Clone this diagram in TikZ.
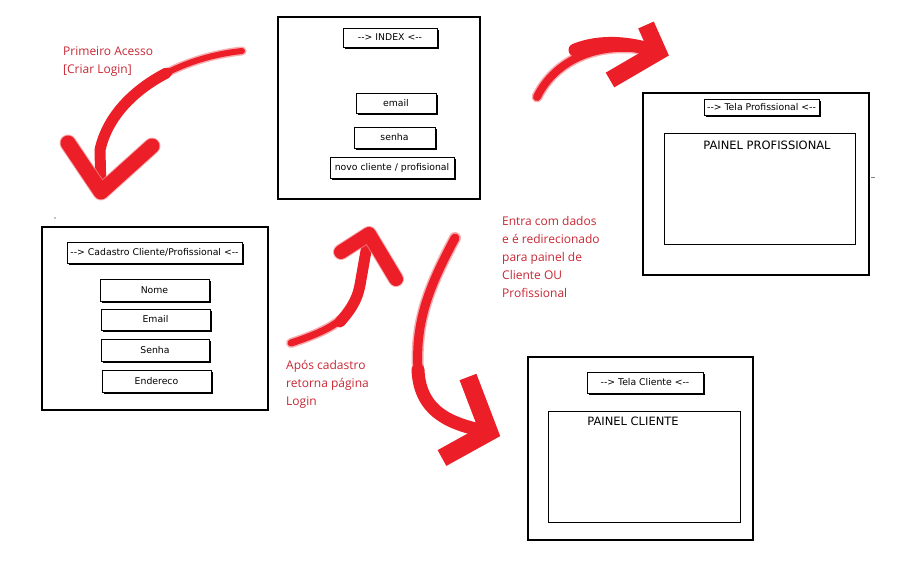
\documentclass[tikz,border=0pt]{standalone}
\usepackage{fontspec}
\setmainfont{DejaVu Sans}
\newfontfamily\notefont{Open Sans}
\usetikzlibrary{shadows}
\definecolor{notered}{RGB}{200,40,52}
\definecolor{brushred}{RGB}{236,30,40}
\definecolor{brushhalo}{RGB}{246,140,144}
\tikzset{
  frame/.style={draw=black, line width=1.3pt, fill=white, inner sep=0pt},
  btn/.style={draw=black, line width=0.7pt, fill=white, inner sep=0pt,
    font=\fontsize{9.3}{10}\selectfont,
    drop shadow={shadow xshift=1.6pt, shadow yshift=-1.8pt, opacity=1, fill=black}},
  panel/.style={draw=black, line width=1pt, fill=white, inner sep=0pt},
  paneltext/.style={font=\fontsize{11.5}{13}\selectfont, inner sep=0pt},
  note/.style={font=\notefont\fontsize{12}{18}\selectfont, text=notered, align=left, anchor=north west, inner sep=0pt},
  brush/.style={draw=brushred, line cap=round, line join=round},
  brushsoft/.style={draw=brushhalo, line cap=round, line join=round, opacity=0.7},
}
\begin{document}
\begin{tikzpicture}[x=1pt,y=-1pt]
\useasboundingbox (0,0) rectangle (904,576);
\fill[white] (0,0) rectangle (904,576);

% ---------- INDEX ----------
\node[frame, minimum width=202pt, minimum height=182pt] (index) at (379,108) {};
\node[btn, minimum width=94pt, minimum height=19pt] (indextitle) at (390,37.5) {-{}-> INDEX <-{}-};
\node[btn, minimum width=80pt, minimum height=20pt] (email) at (396,103) {email};
\node[btn, minimum width=81pt, minimum height=21pt] (senha) at (394.5,137.5) {senha};
\node[btn, minimum width=124pt, minimum height=21pt] (novo) at (392,167.5) {novo cliente / profisional};

% ---------- Cadastro ----------
\node[frame, minimum width=226pt, minimum height=183pt] (cad) at (155,318.5) {};
\node[btn, minimum width=175pt, minimum height=21pt] (cadtitle) at (154.5,252.5) {-{}-> Cadastro Cliente/Profissional <-{}-};
\node[btn, minimum width=109pt, minimum height=22pt] (nome) at (154.5,290) {Nome};
\node[btn, minimum width=109pt, minimum height=21pt] (cemail) at (155.5,319.5) {Email};
\node[btn, minimum width=108pt, minimum height=22pt] (csenha) at (155,350) {Senha};
\node[btn, minimum width=109pt, minimum height=22pt] (end) at (156.5,381) {Endereco};
\fill (55,218) circle (0.6pt);

% ---------- Tela Profissional ----------
\node[frame, minimum width=226pt, minimum height=182pt] (prof) at (756,184) {};
\node[btn, minimum width=115pt, minimum height=16pt] (proftitle) at (761.5,107) {-{}-> Tela Profissional <-{}-};
\node[panel, minimum width=191pt, minimum height=111pt] (profpanel) at (759.5,188.5) {};
\node[paneltext] (proftext) at (767,145) {PAINEL PROFISSIONAL};
\draw[gray, line width=0.6pt] (871,177) -- (875,177);

% ---------- Tela Cliente ----------
\node[frame, minimum width=225pt, minimum height=183pt] (cli) at (640.5,448.5) {};
\node[btn, minimum width=116pt, minimum height=21pt] (clititle) at (645,382.5) {-{}-> Tela Cliente <-{}-};
\node[panel, minimum width=192pt, minimum height=111pt] (clipanel) at (644,466.5) {};
\node[paneltext] (clitext) at (633,421) {PAINEL CLIENTE};

% ---------- notes ----------
\node[note] (n1) at (63,46) {Primeiro Acesso\\{[}Criar Login{]}};
\node[note] (n2) at (502,216) {Entra com dados\\e é redirecionado\\para painel de\\Cliente OU\\Profissional};
\node[note] (n3) at (286,360) {Após cadastro\\retorna página\\Login};

% ---------- brush arrows ----------
% A: Primeiro Acesso -> Cadastro
\coordinate (a0) at (242,51);
\coordinate (am) at (166.5,73);
\coordinate (aT) at (101,192);
\draw[brushsoft, line width=9pt] (a0) .. controls (175,58) and (112,95) .. (100,150) -- (aT);
\draw[brush, line width=6pt] (a0) .. controls (175,58) and (112,95) .. (100,150) -- (aT);
\draw[brush, line width=11pt] (am) .. controls (132.8,90.5) and (107.2,117) .. (100,150) -- (aT);
\draw[brushsoft, line width=17pt] (68,143) -- (aT) -- (152,146);
\draw[brush, line width=15pt] (68,143) -- (aT) -- (152,146);

% B: Index -> Tela Profissional
\coordinate (b0) at (537,97);
\coordinate (bT) at (658,52);
\draw[brushsoft, line width=11pt] (b0) .. controls (555,60) and (600,38) .. (bT);
\draw[brush, line width=8pt] (b0) .. controls (555,60) and (600,38) .. (bT);
\draw[brush, line width=13pt] (575,50) .. controls (600,40) and (630,42) .. (bT);
\draw[brush, line width=17pt, line cap=butt, line join=miter] (646,25) -- (bT) -- (610,80);

% C: Cadastro -> Index
\coordinate (c0) at (291,343);
\coordinate (cT) at (369,234);
\draw[brushsoft, line width=10pt] (c0) .. controls (330,330) and (355,318) .. (360,285) -- (cT);
\draw[brush, line width=7pt] (c0) .. controls (330,330) and (355,318) .. (360,285) -- (cT);
\draw[brush, line width=11pt] (340,322) .. controls (355,305) and (358,295) .. (360,285) -- (cT);
\draw[brushsoft, line width=16pt] (341,252) -- (cT) -- (396,279);
\draw[brush, line width=14pt] (341,252) -- (cT) -- (396,279);

% D: Index -> Tela Cliente
\coordinate (d0) at (455,238);
\coordinate (dT) at (489,432);
\draw[brushsoft, line width=12pt] (d0) .. controls (430,285) and (415,320) .. (418,370) .. controls (420,415) and (455,425) .. (dT);
\draw[brush, line width=9pt] (d0) .. controls (430,285) and (415,320) .. (418,370) .. controls (420,415) and (455,425) .. (dT);
\draw[brush, line width=13pt] (418,370) .. controls (420,415) and (455,425) .. (dT);
\draw[brush, line width=18pt, line cap=butt, line join=miter] (468,377) -- (dT) -- (442,458);
\end{tikzpicture}
\end{document}
